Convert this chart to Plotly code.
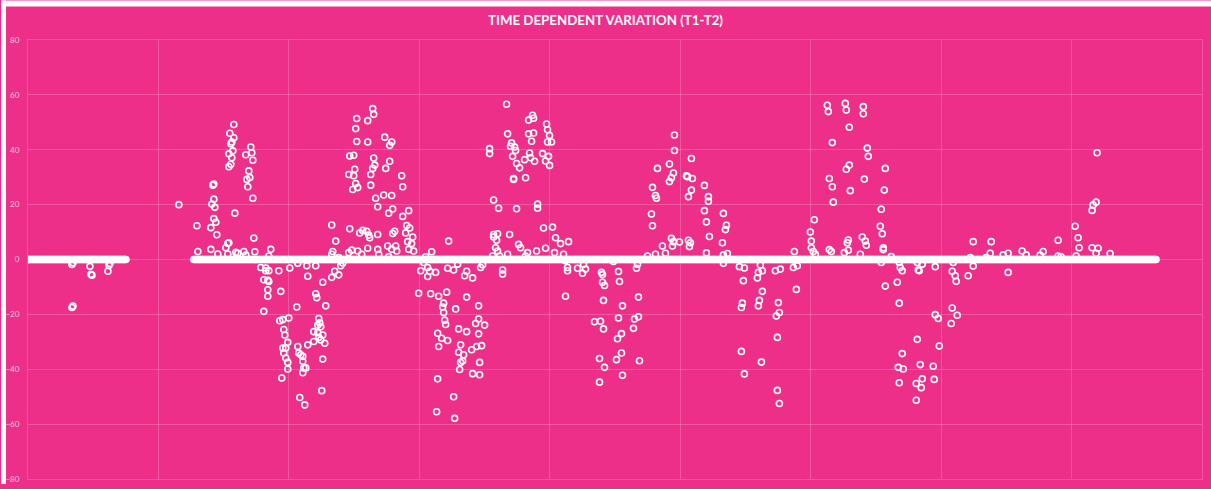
import plotly.graph_objects as go

# ---- data (x = sample index, y = T1-T2 difference) ----
# runs of samples whose variation is exactly zero
zero_run_start = [0, 166]
zero_run_end = [98, 1129]

cycle_0 = [(44, -17.5), (45, -17), (44, -1.8), (45, -1.2), (62, -2.5), (63, -5.4), (64, -5.7),
           (80, -4.3), (81, -2.2), (82, -1.5)]

cycle_1 = [(151, 20), (169, 12.3), (170, 2.9), (183, 3.7), (185, 27.1), (186, 27.5), (186, 22), (184, 20.2),
           (187, 19), (186, 14.9), (188, 13.6), (183, 11.6), (189, 9.0), (198, 4.3), (200, 5.9), (201, 6.1),
           (190, 2), (200, 2), (208, 2.6), (210, 2.3), (216, 2.9), (218, 1.6), (227, 2.8), (206, 49.2),
           (202, 46), (206, 44.4), (203, 42.2), (204, 42.8), (205, 39.6), (201, 38.5), (204, 37.1),
           (203, 34.7), (201, 33.8), (223, 41), (224, 38.9), (218, 38.2), (225, 36.2), (221, 32.3),
           (222, 29.9), (219, 29.2), (220, 26.5), (225, 22.3), (207, 16.9), (226, 7.8)]

cycle_2 = [(236, -18.9), (233, -2.9), (238, -3.1), (236, -7.4), (240, -7.6), (240, -11), (240, -13.4),
           (243, 3.7), (241, 1.3), (238, -4.1), (241, -4.1), (241, -8), (251, -4.1), (253, -11.6),
           (262, -3.1), (252, -22.3), (255, -21.9), (261, -21.3), (256, -25.5), (257, -27.5), (260, -30.2),
           (255, -32.3), (258, -32.3), (256, -34.1), (258, -35.9), (260, -37.5), (260, -39.9), (254, -43.2),
           (269, -17.3), (270, -31.7), (271, -34.1), (273, -34.7), (275, -35.3), (275, -37.1), (276, -39.5),
           (278, -39.5), (275, -41.3), (272, -50.3), (277, -53), (280, -31.1), (280, -6.1), (279, -2.3),
           (270, -1.4), (288, -12.5), (289, -13.9), (288, -2.3), (295, -8.3), (298, -16.9), (291, -21.5),
           (292, -23.1), (290, -23.9), (293, -24.5), (286, -26.3), (290, -26.7), (295, -27.5), (291, -28.4),
           (293, -29.3), (286, -29.9), (297, -30.5), (295, -36.3), (294, -47.8)]

cycle_3 = [(304, -6.5), (307, -4.3), (311, -5.6), (313, -2.3), (315, -1.3), (311, 0.7), (304, 1.9), (308, 6.7),
           (305, 2.9), (304, 12.6), (322, 11.2), (321, 2.5), (324, 3.4), (330, 3.1), (334, 1.9), (332, 9.7),
           (335, 10.6), (339, 10.3), (342, 7.9), (341, 8.9), (340, 4.1), (350, 9.1), (350, 3.7), (351, 1.9),
           (345, 55), (346, 52.9), (329, 51.4), (340, 50.6), (328, 47.7), (329, 43), (340, 42.8), (357, 44.6),
           (364, 42.8), (362, 41.6), (322, 37.7), (326, 38), (346, 37), (347, 34.4), (345, 33.2), (343, 31),
           (327, 32.9), (321, 31), (326, 30.5), (362, 35.8), (358, 33.2), (328, 27.7), (330, 26.2),
           (325, 25.5), (343, 27.1), (374, 30.5), (375, 26.5), (356, 23.5), (364, 23.3), (348, 22.3),
           (350, 19.2), (365, 18.4), (361, 16.9), (381, 17.8), (375, 15.7), (379, 12.4), (382, 11.5),
           (378, 9.7), (385, 8.2), (380, 6.5), (384, 5.8), (381, 3.7), (386, 3.1), (367, 10.3), (365, 9.5),
           (360, 4.9), (368, 4.9), (364, 3.7), (369, 3.1), (361, 1.0)]

cycle_4 = [(404, 2.8), (398, 1), (396, -1.1), (400, -2.9), (393, -4.1), (402, -4.3), (400, -6.2), (408, -4.7),
           (391, -12.3), (403, -12.5), (411, -13.4), (410, -26.9), (411, -31.7), (410, -43.5), (409, -55.5),
           (419, -11.9), (416, -15.9), (415, -17.3), (416, -19.3), (417, -22.1), (418, -23.7), (414, -28.7),
           (420, -29.5), (426, -50), (427, -57.9), (428, -18), (439, -13.7), (451, -16.9), (431, -25.3),
           (439, -26.3), (433, -31.1), (431, -33.8), (436, -34.7), (433, -37.5), (435, -36.9), (432, -40.1),
           (445, -41.6), (452, -42), (452, -37.5), (444, -32.9), (449, -31.7), (454, -31.4), (451, -27.1),
           (448, -23.3), (451, -21.7), (457, -23.9), (421, 6.7), (420, -3.2), (426, -3.8), (430, -1.7),
           (437, -5.9), (439, -4.3), (445, -6.7), (453, -2.9), (455, -1.9)]

cycle_5 = [(466, 9.1), (470, 9.4), (466, 8.2), (469, 7), (468, 4.3), (470, 3.1), (465, 1.3), (472, 1.3),
           (475, -3.8), (475, -5.3), (482, 9.1), (480, 1.9), (466, 21.7), (471, 18.7), (489, 18.5),
           (462, 40.4), (462, 38.6), (479, 56.6), (480, 45.8), (484, 42.5), (483, 41.3), (487, 41),
           (488, 39.7), (485, 37.6), (489, 35), (492, 33.4), (486, 29.5), (486, 29.2), (498, 29.8),
           (501, 50.8), (505, 52.6), (506, 51.5), (501, 45.8), (506, 46.1), (504, 43.1), (502, 38.8),
           (503, 37.1), (497, 36.4), (507, 35.8), (519, 49.4), (520, 47.3), (522, 45.2), (520, 42.8),
           (524, 42.8), (515, 38.6), (521, 37.6), (518, 35.9), (522, 34.3), (510, 20.2), (510, 18.7),
           (516, 11.5), (525, 11.8), (528, 7.9), (533, 5.8), (541, 6.5), (518, 4.1), (509, 3.1), (527, 2.5),
           (536, 1.9), (538, -0.5), (540, -2.9), (540, -4.1), (550, -3.2), (555, -5), (558, -3.5),
           (538, -13.4), (491, 5.5), (493, 4.3), (500, 2.5), (498, 1.3)]

cycle_6 = [(556, -1.7), (574, -4.7), (575, -5.5), (575, -8.3), (577, -9.5), (576, -14.9), (567, -22.7),
           (573, -22.5), (576, -25.3), (572, -36.1), (577, -39.3), (572, -44.7), (586, -0.7), (591, -4.4),
           (592, -8), (595, -16.9), (591, -21.3), (594, -27), (590, -28.9), (594, -34.1), (589, -36.5),
           (595, -42.2), (610, -1.7), (609, -3.2), (611, -13.7), (607, -21.7), (611, -20.9), (606, -25.1),
           (612, -36.9)]

cycle_7 = [(647, 45.4), (647, 39.7), (664, 36.8), (630, 33.2), (642, 34.8), (646, 31.5), (644, 29.8),
           (642, 28.4), (659, 30.5), (660, 30.2), (665, 29.5), (625, 26.3), (628, 23.3), (629, 22.3),
           (664, 25.3), (661, 22.9), (677, 27), (681, 22.9), (681, 21.2), (624, 16.6), (625, 12.3),
           (677, 17.8), (679, 13.7), (696, 16.8), (699, 12.5), (698, 10.9), (682, 8.4), (695, 6.1),
           (644, 7.7), (646, 6.5), (652, 6.4), (645, 4.9), (635, 4.9), (661, 7), (663, 6.1), (662, 4.7),
           (638, 2.3), (628, 1.9), (620, 1.3), (679, 2.4), (700, 2.2), (696, 1.7), (696, -1.4)]

cycle_8 = [(712, -2.6), (717, -3.1), (716, -7.7), (715, -15.9), (714, -17.5), (714, -33.5), (717, -41.7),
           (733, -2), (735, -4.1), (731, -4.7), (730, -6.7), (735, -11.6), (732, -14.9), (731, -16.9),
           (734, -37.4), (748, -4.1), (753, -3.5), (751, -15.7), (752, -19.3), (749, -20.6), (750, -28.4),
           (750, -47.7), (752, -52.5), (767, 2.9), (766, -0.2), (766, -2.9), (770, -2.3), (769, -10.9)]

cycle_9 = [(787, 14.5), (783, 10), (784, 6.7), (784, 4.3), (786, 2.9), (788, 1.9), (800, 56.2), (801, 53.9),
           (818, 56.9), (819, 54.5), (836, 55.7), (836, 53.1), (822, 48.2), (805, 42.6), (840, 40.6),
           (841, 37.6), (822, 34.4), (819, 32.9), (858, 33.2), (802, 29.5), (805, 26.5), (837, 29.3),
           (823, 25.1), (857, 25.3), (806, 20.9), (854, 18.3), (853, 12.1), (855, 9.4), (856, 4.3),
           (856, 3.6), (835, 8.2), (838, 6.7), (839, 5.2), (821, 7.1), (820, 6.1), (821, 3.4), (817, 2.5),
           (802, 3.6), (804, 2.9), (833, 1.9)]

cycle_10 = [(854, -1.1), (858, -9.7), (870, -8.3), (872, -15.9), (864, 1.1), (873, -2.9), (875, -4.1),
            (872, -1.1), (890, -1.1), (892, -4.1), (891, -3.8), (895, -1.7), (908, -2.6), (875, -34.3),
            (871, -39.3), (876, -39.9), (872, -44.9), (890, -29.1), (893, -38.3), (889, -45.2), (894, -46.7),
            (895, -43.5), (889, -51.3), (906, -38.9), (907, -43.7), (908, -20.1), (911, -21.5), (912, -31.5),
            (925, -17.7), (930, -20.3), (924, -23.3), (925, -4.3), (928, -5.9), (929, -7.9), (941, -5.9),
            (926, -1.1), (946, -2.4), (943, 0.7), (946, 6.5)]

cycle_11 = [(964, 6.5), (963, 2.3), (959, 0.7), (981, -4.7), (981, 2.3), (976, 1.7), (995, 3.1), (999, 1.7),
            (1016, 2.9), (1013, 1.6), (1031, 7), (1031, 1.3), (1034, 1), (1048, 12.1), (1051, 7.9),
            (1052, 4.3), (1049, 1.3), (1070, 38.9), (1069, 20.9), (1066, 19.9), (1065, 17.9), (1065, 4.3),
            (1071, 4.1), (1069, 2.3), (1083, 2.2)]

y_ticks = [-80, -60, -40, -20, 0, 20, 40, 60, 80]
x_total = 1175
x_divisions = 9
title_text = "TIME DEPENDENT VARIATION (T1-T2)"

# ---- assemble ----
xs, ys = [], []
for s, e in zip(zero_run_start, zero_run_end):
    for i in range(s, e + 1):
        xs.append(i)
        ys.append(0)
for cyc in [cycle_0, cycle_1, cycle_2, cycle_3, cycle_4, cycle_5, cycle_6,
            cycle_7, cycle_8, cycle_9, cycle_10, cycle_11]:
    for x, y in cyc:
        xs.append(x)
        ys.append(y)

PINK = "#ED2F89"
GRID = "rgba(255,255,255,0.20)"

fig = go.Figure()
fig.add_trace(go.Scatter(
    x=xs, y=ys, mode="markers",
    marker=dict(symbol="circle-open", size=6, color="white", line=dict(width=1.6, color="white")),
    hoverinfo="x+y", showlegend=False,
))

W, H = 1211, 489
ml, mr, mt, mb = 27, 9, 40, 5
pw, ph = W - ml - mr, H - mt - mb

fig.update_layout(
    width=W, height=H, autosize=False,
    margin=dict(l=ml, r=mr, t=mt, b=mb, pad=0),
    paper_bgcolor=PINK, plot_bgcolor=PINK,
    title=dict(text="<b>" + title_text + "</b>", x=0.5, xanchor="center",
               y=1 - 20 / H, yanchor="middle",
               font=dict(family="Lato, Open Sans, sans-serif", size=13.3, color="white")),
    xaxis=dict(range=[0, x_total], dtick=x_total / x_divisions, tick0=0, showticklabels=False,
               showgrid=True, gridcolor=GRID, gridwidth=1, zeroline=False,
               showline=True, mirror=True, linecolor=GRID, linewidth=1, ticks=""),
    yaxis=dict(range=[-80, 80], tickvals=y_ticks, showgrid=True, gridcolor=GRID, gridwidth=1,
               zeroline=False, showline=True, mirror=True, linecolor=GRID, linewidth=1, ticks="",
               ticklabelstandoff=6,
               tickfont=dict(family="Lato, Open Sans, sans-serif", size=8, color="rgba(255,255,255,0.75)")),
    shapes=[
        # white strips around the pink card (top 6 px and left 5 px)
        dict(type="rect", xref="paper", yref="paper", x0=-ml / pw, x1=(W - ml) / pw,
             y0=(ph + mt - 6) / ph, y1=(ph + mt) / ph, fillcolor="white", line=dict(width=0), layer="above"),
        dict(type="rect", xref="paper", yref="paper", x0=-ml / pw, x1=(5 - ml) / pw,
             y0=-mb / ph, y1=(ph + mt) / ph, fillcolor="white", line=dict(width=0), layer="above"),
    ],
)

fig.write_html("out.html", config={"displayModeBar": False},
               post_script="document.body.style.margin='0';document.body.style.padding='0';"
                           "document.body.style.overflow='hidden';")
